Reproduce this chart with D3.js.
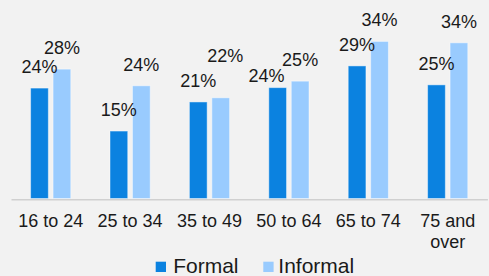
<!DOCTYPE html>
<html>
<head>
<meta charset="utf-8">
<script src="https://cdn.jsdelivr.net/npm/d3@7"></script>
<style>
    html, body { margin: 0; padding: 0; background: #f2f2f2; }
    svg { display: block; font-family: "Liberation Sans", Arial, sans-serif; }
</style>
</head>
<body>
<svg id="chart" width="489" height="276"></svg>
<script>
// age groups and shares (%)
const categories = ["16 to 24", "25 to 34", "35 to 49", "50 to 64", "65 to 74", "75 and over"];
const seriesKeys = ["Formal", "Informal"];
const formalVals   = [23.9, 14.6, 20.9, 24.0, 28.7, 24.6];
const informalVals = [28.0, 24.4, 21.8, 25.4, 34.0, 33.7];
const colors = ["#0b82e0", "#99cbfe"];

// hand-moved data labels (as in the original), keyed "category|series"
const labelNudge = {
    "35 to 49|Informal": [4.6, -21],
    "50 to 64|Formal": [-11.2, 9]
};

const svg = d3.select("#chart");
const W = 489, H = 276;

svg.append("rect").attr("width", W).attr("height", H).attr("fill", "#f2f2f2");

const base = 198.5;
const x = d3.scaleBand().domain(categories).range([11, 487.4]).padding(0);
const xInner = d3.scaleBand().domain(seriesKeys).range([19.6, 59.8]).paddingInner(0.21);
const y = d3.scaleLinear().domain([0, 40]).range([base, base - 40 * 4.62]);
const color = d3.scaleOrdinal().domain(seriesKeys).range(colors);

const rows = categories.map((c, i) => ({
    cat: c,
    vals: [
        { cat: c, k: "Formal", v: formalVals[i] },
        { cat: c, k: "Informal", v: informalVals[i] }
    ]
}));

const groups = svg.selectAll(".grp")
    .data(rows)
    .enter()
    .append("g")
    .attr("class", "grp")
    .attr("transform", d => `translate(${x(d.cat)},0)`);

groups.selectAll("rect")
    .data(d => d.vals)
    .enter()
    .append("rect")
    .attr("x", d => xInner(d.k))
    .attr("y", d => y(d.v))
    .attr("width", xInner.bandwidth())
    .attr("height", d => base - y(d.v))
    .attr("fill", d => color(d.k))
    .attr("stroke", "rgba(255,255,255,0.45)")
    .attr("stroke-width", 1);

const nudge = d => labelNudge[d.cat + "|" + d.k] || [0, 0];

groups.selectAll("text.val")
    .data(d => d.vals)
    .enter()
    .append("text")
    .attr("class", "val")
    .attr("x", d => xInner(d.k) + xInner.bandwidth() / 2 + nudge(d)[0])
    .attr("y", d => y(d.v) - 15 + nudge(d)[1])
    .attr("text-anchor", "middle")
    .style("font-size", "18px")
    .style("fill", "#1a1a1a")
    .text(d => Math.round(d.v) + "%");

// axis
const xAxis = svg.append("g")
    .attr("transform", `translate(0,${base + 0.7})`)
    .call(d3.axisBottom(x).tickSize(0).tickPadding(0));
xAxis.select(".domain").attr("stroke", "#d0d0d0").attr("stroke-width", 1.4);
xAxis.selectAll(".tick text").remove();

const catLabels = svg.append("g");
categories.forEach(c => {
    const t = catLabels.append("text")
        .attr("x", x(c) + x.bandwidth() / 2)
        .attr("y", 226.7)
        .attr("text-anchor", "middle")
        .style("font-size", "18px")
        .style("fill", "#1a1a1a");
    wrap(t, c, x.bandwidth() - 2);
});

function wrap(t, str, maxW) {
    const words = str.split(" ");
    let line = [];
    let tspan = t.append("tspan").attr("x", t.attr("x")).attr("dy", 0);
    words.forEach(w => {
        line.push(w);
        tspan.text(line.join(" "));
        if (tspan.node().getComputedTextLength() > maxW && line.length > 1) {
            line.pop();
            tspan.text(line.join(" "));
            line = [w];
            tspan = t.append("tspan").attr("x", t.attr("x")).attr("dy", 21.5).text(w);
        }
    });
}

// legend
const legend = svg.append("g");
const legendPos = [155.7, 263.3];
seriesKeys.forEach((k, i) => {
    const row = legend.append("g").attr("transform", `translate(${legendPos[i]},261.7)`);
    row.append("rect").attr("width", 10.3).attr("height", 10.3).attr("fill", color(k));
    row.append("text")
        .attr("x", 17.5 + (i === 1 ? -2.5 : 0))
        .attr("y", 11)
        .style("font-size", "21px")
        .style("fill", "#1a1a1a")
        .text(k);
});
</script>
</body>
</html>
